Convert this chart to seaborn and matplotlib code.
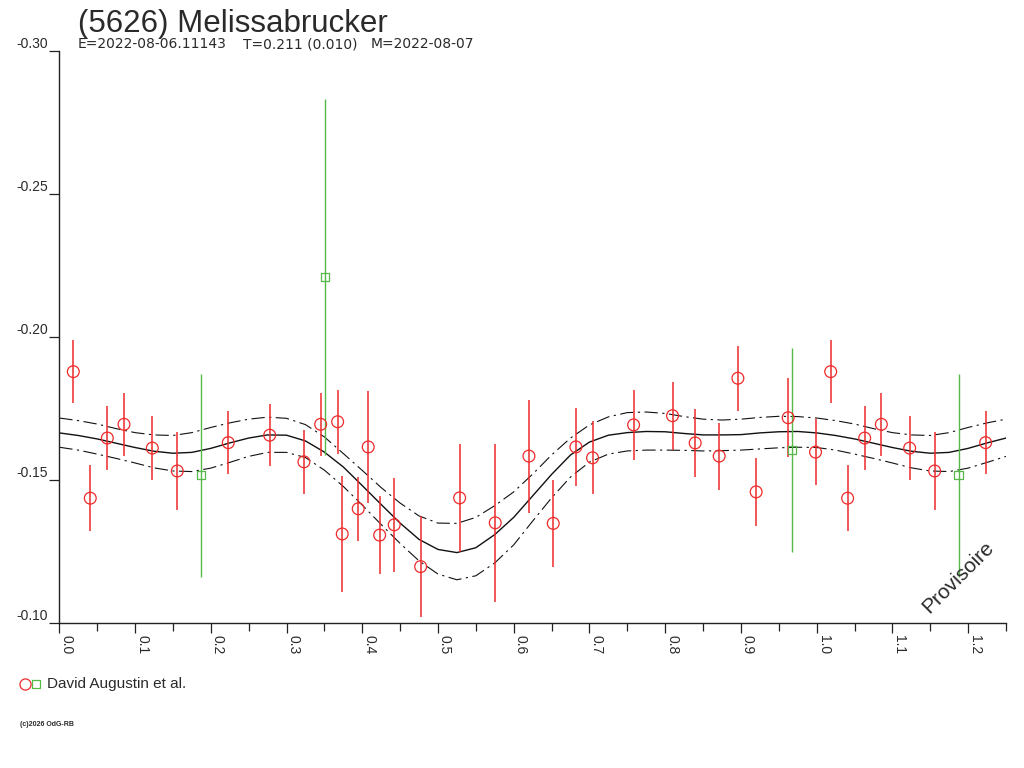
import numpy as np
import pandas as pd
import seaborn as sns
import matplotlib
matplotlib.use("Agg")
import matplotlib.pyplot as plt
import matplotlib.lines as mlines
from matplotlib.ticker import MultipleLocator, FormatStrFormatter

# Observations (phase, reduced magnitude, error) - red circles
red_phase = [0.0185, 0.0409, 0.0634, 0.0854, 0.1228, 0.1558, 0.2231, 0.2778,
             0.3230, 0.3451, 0.3675, 0.3736, 0.3947, 0.4079, 0.4230, 0.4422,
             0.4771, 0.5286, 0.5756, 0.6201, 0.6522, 0.6821, 0.7041, 0.7583,
             0.8097, 0.8396, 0.8713, 0.8960, 0.9201, 0.9624, 0.9985]
red_mag = [-0.1879, -0.1437, -0.1647, -0.1695, -0.1612, -0.1532, -0.1631, -0.1657,
           -0.1564, -0.1695, -0.1704, -0.1312, -0.1400, -0.1616, -0.1308, -0.1344,
           -0.1198, -0.1438, -0.1351, -0.1584, -0.1349, -0.1616, -0.1578, -0.1693,
           -0.1725, -0.1630, -0.1584, -0.1856, -0.1459, -0.1718, -0.1598]
red_err = [0.0111, 0.0115, 0.0113, 0.0111, 0.0113, 0.0137, 0.0111, 0.0109,
           0.0111, 0.0109, 0.0111, 0.0203, 0.0111, 0.0196, 0.0137, 0.0164,
           0.0176, 0.0188, 0.0275, 0.0197, 0.0151, 0.0137, 0.0127, 0.0122,
           0.0118, 0.0118, 0.0117, 0.0113, 0.0118, 0.0138, 0.0114]

# green squares
green_phase = [0.1875, 0.3512, 0.9677]
green_mag = [-0.1517, -0.2210, -0.1605]
green_err = [0.0354, 0.0622, 0.0357]

# fitted curve and its band, phase 0 -> 1 in steps of 0.025
fit_phase = np.linspace(0, 1, 41)
fit_mag = [-0.1665, -0.1656, -0.1644, -0.1629, -0.1614, -0.1601, -0.1594, -0.1597,
           -0.1611, -0.1630, -0.1647, -0.1658, -0.1657, -0.1637, -0.1598, -0.1546,
           -0.1481, -0.1415, -0.1350, -0.1293, -0.1258, -0.1247, -0.1264, -0.1310,
           -0.1370, -0.1445, -0.1520, -0.1588, -0.1633, -0.1657, -0.1666, -0.1670,
           -0.1669, -0.1663, -0.1658, -0.1658, -0.1659, -0.1665, -0.1669, -0.1670,
           -0.1665]
fit_hi = [-0.1717, -0.1708, -0.1696, -0.1680, -0.1666, -0.1658, -0.1656, -0.1666,
          -0.1684, -0.1700, -0.1713, -0.1720, -0.1716, -0.1694, -0.1651, -0.1593,
          -0.1534, -0.1474, -0.1420, -0.1375, -0.1350, -0.1349, -0.1370, -0.1411,
          -0.1459, -0.1521, -0.1588, -0.1647, -0.1693, -0.1721, -0.1736, -0.1738,
          -0.1733, -0.1722, -0.1713, -0.1710, -0.1713, -0.1719, -0.1723, -0.1722,
          -0.1717]
fit_lo = [-0.1615, -0.1605, -0.1591, -0.1576, -0.1560, -0.1543, -0.1532, -0.1530,
          -0.1542, -0.1562, -0.1583, -0.1597, -0.1597, -0.1579, -0.1535, -0.1478,
          -0.1413, -0.1345, -0.1279, -0.1218, -0.1172, -0.1152, -0.1166, -0.1211,
          -0.1274, -0.1357, -0.1438, -0.1511, -0.1563, -0.1591, -0.1602, -0.1605,
          -0.1605, -0.1604, -0.1602, -0.1603, -0.1605, -0.1609, -0.1613, -0.1615,
          -0.1614]

x_ticks = np.arange(0, 1.25, 0.1)
y_ticks = [-0.30, -0.25, -0.20, -0.15, -0.10]

RED = "#ee2a2a"
GREEN = "#55b948"
TXT = "#2a2a2a"


def wrap(df):
    """repeat the phases below 0.25 after phase 1"""
    extra = df[df["phase"] < 0.25].copy()
    extra["phase"] = extra["phase"] + 1.0
    return pd.concat([df, extra], ignore_index=True)


obs_red = wrap(pd.DataFrame({"phase": red_phase, "mag": red_mag, "err": red_err}))
obs_green = wrap(pd.DataFrame({"phase": green_phase, "mag": green_mag, "err": green_err}))
fit = pd.DataFrame({"phase": fit_phase, "mag": fit_mag, "hi": fit_hi, "lo": fit_lo})
fit = pd.concat([fit, fit.iloc[1:11].assign(phase=fit["phase"].iloc[1:11] + 1.0)],
                ignore_index=True)

sns.set_theme(style="white")
plt.rcParams["font.family"] = ["Liberation Sans", "DejaVu Sans"]

fig = plt.figure(figsize=(10.24, 7.68), dpi=100)
W, H = 1024.0, 768.0
ax = fig.add_axes([59.3 / W, 1 - 623.3 / H, (1006 - 59.3) / W, (623.3 - 50.7) / H])


def px(x, y):
    return x / W, 1 - y / H


# fit lines
dashdot = (0, (12, 4, 2, 4))
sns.lineplot(data=fit, x="phase", y="mag", sort=False, estimator=None,
             color="#111111", lw=1.0, ax=ax)
sns.lineplot(data=fit, x="phase", y="hi", sort=False, estimator=None,
             color="#111111", lw=0.8, linestyle=dashdot, ax=ax)
sns.lineplot(data=fit, x="phase", y="lo", sort=False, estimator=None,
             color="#111111", lw=0.8, linestyle=dashdot, ax=ax)

# error bars
ax.vlines(obs_green["phase"], obs_green["mag"] - obs_green["err"],
          obs_green["mag"] + obs_green["err"], color=GREEN, lw=1.0)
ax.vlines(obs_red["phase"], obs_red["mag"] - obs_red["err"],
          obs_red["mag"] + obs_red["err"], color=RED, lw=1.1)

sns.scatterplot(data=obs_green, x="phase", y="mag", marker="s", s=36,
                facecolors="none", edgecolors=GREEN, linewidth=0.9, ax=ax, zorder=3)
sns.scatterplot(data=obs_red, x="phase", y="mag", marker="o", s=72,
                facecolors="none", edgecolors=RED, linewidth=0.9, ax=ax, zorder=3)

ax.set_xlim(0, 1.25)
ax.set_ylim(-0.10, -0.30)
ax.set_xlabel("")
ax.set_ylabel("")
for side in ["top", "right"]:
    ax.spines[side].set_visible(False)
for side in ["left", "bottom"]:
    ax.spines[side].set_color("#222222")
    ax.spines[side].set_linewidth(1.0)

ax.set_xticks(x_ticks)
ax.xaxis.set_minor_locator(MultipleLocator(0.05))
ax.xaxis.set_major_formatter(FormatStrFormatter("%.1f"))
ax.set_yticks(y_ticks)
ax.yaxis.set_major_formatter(FormatStrFormatter("%.2f"))
ax.tick_params(axis="x", which="major", direction="out", length=7.2, width=0.9,
               color="#222222", labelsize=10, labelcolor=TXT, pad=1,
               bottom=True, labelrotation=-90)
ax.tick_params(axis="x", which="minor", direction="out", length=6, width=0.9,
               color="#222222", bottom=True)
ax.tick_params(axis="y", which="major", direction="out", length=7.2, width=0.9,
               color="#222222", labelsize=10, labelcolor=TXT, pad=1, left=True)
for lbl in ax.get_xticklabels():
    lbl.set_horizontalalignment("left")
    lbl.set_verticalalignment("top")
for lbl in ax.get_yticklabels():
    lbl.set_verticalalignment("bottom")

# header texts
fig.text(*px(78, 32), "(5626) Melissabrucker", fontsize=22.5, color=TXT, va="baseline")
sub = dict(fontsize=10, color=TXT, va="baseline", family=["DejaVu Sans"])
fig.text(*px(78, 48.5), "E=2022-08-06.11143", **sub)
fig.text(*px(243, 48.5), "T=0.211 (0.010)", **sub)
fig.text(*px(371, 48.5), "M=2022-08-07", **sub)

fig.text(*px(958, 577), "Provisoire", fontsize=15, color=TXT, rotation=45,
         ha="center", va="center")

# legend
fig.add_artist(mlines.Line2D([px(25, 684)[0]], [px(25, 684)[1]], marker="o",
                             markersize=8, markerfacecolor="none",
                             markeredgecolor=RED, markeredgewidth=0.9,
                             transform=fig.transFigure))
fig.add_artist(mlines.Line2D([px(36, 684)[0]], [px(36, 684)[1]], marker="s",
                             markersize=6, markerfacecolor="none",
                             markeredgecolor=GREEN, markeredgewidth=0.9,
                             transform=fig.transFigure))
fig.text(*px(47, 684), "David Augustin et al.", fontsize=11, color=TXT, va="center")

fig.text(*px(20, 724), "(c)2026 OdG-RB", fontsize=5, color=TXT, va="center",
         fontweight="bold")

fig.savefig("out.png", dpi=100, facecolor="white")
